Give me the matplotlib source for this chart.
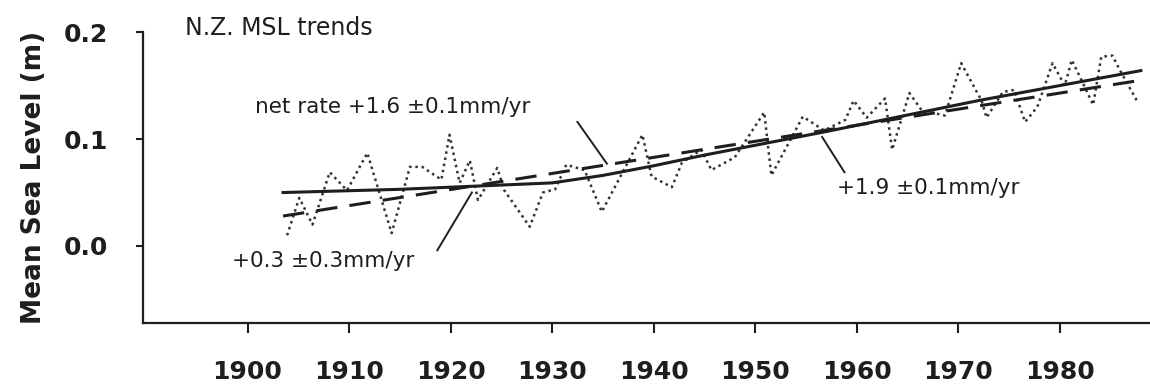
import matplotlib.pyplot as plt

# annual mean sea level (dotted)
msl_years = [1903.9, 1905.1, 1906.4, 1908.1, 1909.8, 1911.8, 1914.2, 1916.0, 1917.2, 1919.1,
             1919.9, 1920.9, 1921.9, 1922.7, 1924.6, 1925.3, 1927.8, 1929.1, 1930.3, 1931.4,
             1933.2, 1934.9, 1938.9, 1939.8, 1941.8, 1942.8, 1944.7, 1945.7, 1948.0, 1950.9,
             1951.6, 1954.7, 1956.8, 1958.9, 1959.7, 1961.0, 1962.8, 1963.5, 1965.2, 1966.4,
             1968.7, 1970.3, 1972.3, 1972.8, 1974.4, 1975.5, 1976.6, 1977.8, 1979.3, 1980.5,
             1981.2, 1983.3, 1984.1, 1985.2, 1985.9, 1987.6]
msl_values = [0.010, 0.045, 0.020, 0.069, 0.052, 0.087, 0.012, 0.074, 0.074, 0.062,
              0.104, 0.059, 0.080, 0.043, 0.073, 0.052, 0.018, 0.050, 0.053, 0.076,
              0.071, 0.032, 0.104, 0.065, 0.055, 0.078, 0.090, 0.071, 0.083, 0.125,
              0.066, 0.121, 0.108, 0.118, 0.136, 0.120, 0.138, 0.090, 0.143, 0.127,
              0.122, 0.171, 0.136, 0.120, 0.144, 0.146, 0.116, 0.130, 0.171, 0.150,
              0.174, 0.132, 0.177, 0.178, 0.165, 0.136]

# two-phase trend (solid)
trend_years = [1903.5, 1915, 1925, 1930, 1935, 1940, 1945, 1957, 1972, 1988]
trend_values = [0.050, 0.053, 0.057, 0.059, 0.066, 0.075, 0.085, 0.107, 0.136, 0.164]

# net linear trend (dashed)
net_years = [1903.5, 1988]
net_values = [0.028, 0.155]

xticks = [1900, 1910, 1920, 1930, 1940, 1950, 1960, 1970, 1980]
yticks = [0.0, 0.1, 0.2]

ink = '#1e1e1e'
plt.rcParams['font.family'] = ['DejaVu Sans']

fig = plt.figure(figsize=(11.5, 3.87), dpi=100)
ax = fig.add_axes([0.1243, 0.1654, 0.8757, 0.7516])

ax.plot(msl_years, msl_values, color='#333333', lw=1.8, linestyle=(0, (1, 1.5)))
ax.plot(trend_years, trend_values, color=ink, lw=2.2)
ax.plot(net_years, net_values, color=ink, lw=2.2, dashes=(7, 4))

ax.set_xlim(1889.7, 1988.9)
ax.set_ylim(-0.072, 0.2)
ax.set_xticks(xticks)
ax.set_yticks(yticks)
ax.set_yticklabels(['0.0', '0.1', '0.2'])

for side in ['top', 'right']:
    ax.spines[side].set_visible(False)
for side in ['left', 'bottom']:
    ax.spines[side].set_color(ink)
    ax.spines[side].set_linewidth(1.6)

ax.tick_params(axis='y', direction='out', length=5, width=1.5, pad=20,
               labelsize=18, colors=ink)
ax.tick_params(axis='x', direction='out', length=7, width=1.5, pad=20,
               labelsize=18, colors=ink)
for lab in ax.get_xticklabels() + ax.get_yticklabels():
    lab.set_fontweight('bold')

ax.set_ylabel('Mean Sea Level (m)', fontsize=19, fontweight='bold', color=ink, labelpad=12)

ax.text(0.042, 0.99, 'N.Z. MSL trends', transform=ax.transAxes,
        fontsize=17, color=ink, va='baseline', ha='left')

ax.text(1900.7, 0.124, 'net rate +1.6 \u00b10.1mm/yr', fontsize=15.5, color=ink,
        va='baseline', ha='left')
ax.text(1898.5, -0.020, '+0.3 \u00b10.3mm/yr', fontsize=15.5, color=ink,
        va='baseline', ha='left')
ax.text(1958.1, 0.049, '+1.9 \u00b10.1mm/yr', fontsize=15.5, color=ink,
        va='baseline', ha='left')

# leader lines
ax.plot([1932.5, 1935.4], [0.116, 0.077], color=ink, lw=1.4)
ax.plot([1918.7, 1922.1], [-0.004, 0.050], color=ink, lw=1.4)
ax.plot([1956.6, 1958.8], [0.102, 0.069], color=ink, lw=1.4)

fig.savefig('out.png', dpi=100)
